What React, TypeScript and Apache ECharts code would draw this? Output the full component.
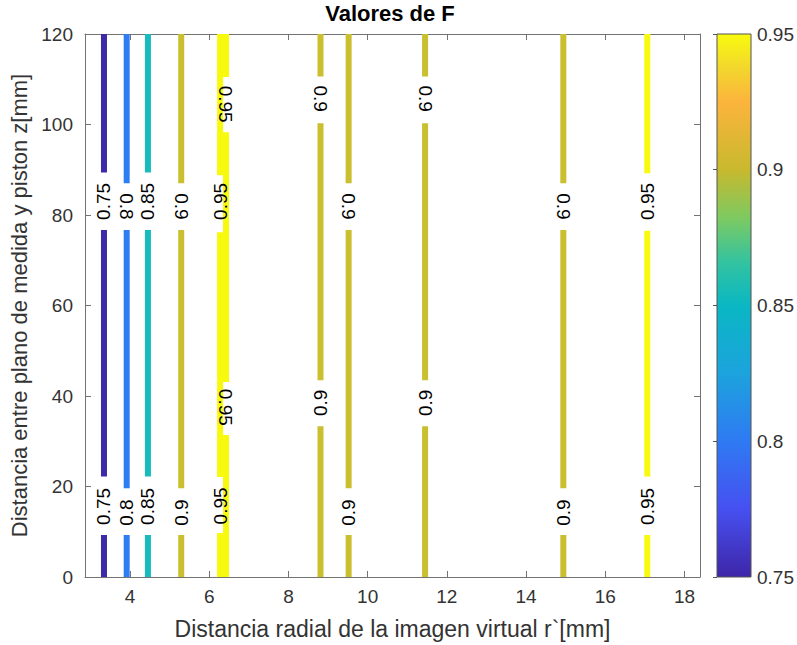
import { useEffect, useRef } from "react";
import * as echarts from "echarts";

// ---- data ----
const xTicks = [4, 6, 8, 10, 12, 14, 16, 18];
const yTicks = [0, 20, 40, 60, 80, 100, 120];
const colorbarTicks = [0.75, 0.8, 0.85, 0.9, 0.95];

// contour lines: position r` (mm) and level F
const contourX = [3.344, 3.917, 4.454, 5.294, 6.275, 6.424, 8.81, 9.52, 11.45, 14.94, 17.06];
const contourLevel = [0.75, 0.8, 0.85, 0.9, 0.95, 0.95, 0.9, 0.9, 0.9, 0.9, 0.95];
// visible pieces of each contour line, [zStart, zEnd] in mm
const contourSegments = [
  [[0, 9.3], [22.2, 76.7], [89.4, 120]],
  [[0, 9.3], [19.6, 76.7], [87.0, 120]],
  [[0, 9.3], [22.2, 76.7], [89.4, 120]],
  [[0, 9.3], [19.6, 76.7], [87.0, 120]],
  [[0, 9.7], [22.1, 76.2], [88.8, 120]],
  [[0, 31.4], [43.1, 98.3], [110.5, 120]],
  [[0, 33.3], [43.5, 100.3], [110.6, 120]],
  [[0, 9.3], [19.6, 76.7], [87.0, 120]],
  [[0, 33.3], [43.5, 100.3], [110.6, 120]],
  [[0, 9.3], [19.6, 76.7], [87.0, 120]],
  [[0, 9.3], [22.2, 76.5], [89.2, 120]],
];

// contour labels
const labelX = [
  3.344, 3.917, 4.454, 5.294, 6.275, 6.424, 8.81, 9.52, 11.45, 14.94, 17.06,
  3.344, 3.917, 4.454, 5.294, 6.275, 6.424, 8.81, 9.52, 11.45, 14.94, 17.06,
];
const labelY = [
  15.6, 14.25, 15.6, 14.25, 15.7, 37.5, 38.5, 14.25, 38.5, 14.25, 15.6,
  83.0, 81.9, 83.0, 81.9, 83.0, 104.5, 105.7, 81.9, 105.7, 81.9, 83.0,
];
const labelText = [
  "0.75", "0.8", "0.85", "0.9", "0.95", "0.95", "0.9", "0.9", "0.9", "0.9", "0.95",
  "0.75", "0.8", "0.85", "0.9", "0.95", "0.95", "0.9", "0.9", "0.9", "0.9", "0.95",
];
const labelFlipped = [
  false, false, false, false, false, true, false, false, false, false, false,
  false, true, false, true, false, true, true, true, true, true, false,
];

// ---- style ----
const FONT = "'Liberation Sans', Arial, Helvetica, sans-serif";
const AXIS_COLOR = "#737373";
const TEXT_COLOR = "#333333";
const levelColors: Record<string, string> = {
  "0.75": "#3d2aa6",
  "0.8": "#2f7df3",
  "0.85": "#19bcbd",
  "0.9": "#c9bf2f",
  "0.95": "#f8fa0e",
};
const parulaStops = [
  { offset: 0, color: "#3e26a8" },
  { offset: 0.125, color: "#4650f0" },
  { offset: 0.25, color: "#2f7af3" },
  { offset: 0.375, color: "#1ca3dd" },
  { offset: 0.5, color: "#0ab7c3" },
  { offset: 0.58, color: "#33c3a0" },
  { offset: 0.66, color: "#7cca62" },
  { offset: 0.75, color: "#c8b92e" },
  { offset: 0.875, color: "#fcb43d" },
  { offset: 0.94, color: "#f2d82c" },
  { offset: 1, color: "#f9fb0e" },
];

const X_MIN = 2.865;
const X_MAX = 18.39;

export default function App() {
  const ref = useRef<HTMLDivElement>(null);

  useEffect(() => {
    if (!ref.current) return;
    const chart = echarts.init(ref.current, null, { renderer: "svg" });

    const lineSeries = contourX.map((x, i) => {
      const data: any[] = [];
      contourSegments[i].forEach((seg, k) => {
        if (k > 0) data.push([x, null]);
        data.push([x, seg[0]]);
        data.push([x, seg[1]]);
      });
      return {
        type: "line",
        xAxisIndex: 0,
        yAxisIndex: 0,
        data,
        symbol: "none",
        showSymbol: false,
        connectNulls: false,
        silent: true,
        z: 2,
        lineStyle: { width: 6, color: levelColors[String(contourLevel[i])], cap: "butt" },
      };
    });

    const labelSeries = {
      type: "custom",
      xAxisIndex: 0,
      yAxisIndex: 0,
      silent: true,
      z: 5,
      data: labelX.map((x, i) => [x, labelY[i]]),
      renderItem: (params: any, api: any) => {
        const i = params.dataIndex;
        const p = api.coord([api.value(0), api.value(1)]);
        return {
          type: "text",
          x: p[0],
          y: p[1],
          rotation: labelFlipped[i] ? -Math.PI / 2 : Math.PI / 2,
          style: {
            text: labelText[i],
            x: 0,
            y: 0,
            align: "center",
            verticalAlign: "middle",
            fontSize: 19,
            fontFamily: FONT,
            fill: "#000000",
          },
        };
      },
    };

    const colorbarSeries = {
      type: "custom",
      xAxisIndex: 2,
      yAxisIndex: 2,
      silent: true,
      data: [[0, colorbarTicks[0], 1, colorbarTicks[colorbarTicks.length - 1]]],
      renderItem: (params: any, api: any) => {
        const p0 = api.coord([api.value(0), api.value(1)]);
        const p1 = api.coord([api.value(2), api.value(3)]);
        return {
          type: "rect",
          shape: { x: p0[0], y: p1[1], width: p1[0] - p0[0], height: p0[1] - p1[1] },
          style: {
            fill: new echarts.graphic.LinearGradient(0, 1, 0, 0, parulaStops),
            stroke: "#555555",
            lineWidth: 1,
          },
        };
      },
    };

    const tickStyle = { inside: true, length: 6, lineStyle: { color: AXIS_COLOR } };
    const lineStyleAxis = { show: true, onZero: false, lineStyle: { color: AXIS_COLOR, width: 1 } };

    chart.setOption({
      animation: false,
      backgroundColor: "#ffffff",
      textStyle: { fontFamily: FONT },
      graphic: [
        {
          type: "text",
          x: 390,
          y: 2,
          style: {
            text: "Valores de F",
            align: "center",
            verticalAlign: "top",
            fontSize: 22,
            fontWeight: "bold",
            fontFamily: FONT,
            fill: "#000000",
          },
        },
      ],
      grid: [
        { left: 85, top: 34, width: 615, height: 543 },
        { left: 717, top: 34, width: 36, height: 543 },
      ],
      xAxis: [
        {
          gridIndex: 0,
          type: "value",
          min: X_MIN,
          max: X_MAX,
          position: "bottom",
          axisLine: lineStyleAxis,
          axisTick: { ...tickStyle, customValues: xTicks },
          axisLabel: { customValues: xTicks, margin: 10, fontSize: 19, color: TEXT_COLOR, fontFamily: FONT },
          splitLine: { show: false },
          name: "Distancia radial de la imagen virtual r`[mm]",
          nameLocation: "middle",
          nameGap: 40,
          nameTextStyle: { fontSize: 23, color: TEXT_COLOR, fontFamily: FONT },
        },
        {
          gridIndex: 0,
          type: "value",
          min: X_MIN,
          max: X_MAX,
          position: "top",
          axisLine: lineStyleAxis,
          axisTick: { ...tickStyle, customValues: xTicks },
          axisLabel: { show: false },
          splitLine: { show: false },
        },
        { gridIndex: 1, type: "value", min: 0, max: 1, show: false },
      ],
      yAxis: [
        {
          gridIndex: 0,
          type: "value",
          min: yTicks[0],
          max: yTicks[yTicks.length - 1],
          position: "left",
          axisLine: lineStyleAxis,
          axisTick: { ...tickStyle, customValues: yTicks },
          axisLabel: { customValues: yTicks, margin: 12, fontSize: 19, color: TEXT_COLOR, fontFamily: FONT },
          splitLine: { show: false },
          name: "Distancia entre plano de medida y piston z[mm]",
          nameLocation: "middle",
          nameRotate: 90,
          nameGap: 52,
          nameTextStyle: { fontSize: 22, color: TEXT_COLOR, fontFamily: FONT },
        },
        {
          gridIndex: 0,
          type: "value",
          min: yTicks[0],
          max: yTicks[yTicks.length - 1],
          position: "right",
          axisLine: lineStyleAxis,
          axisTick: { ...tickStyle, customValues: yTicks },
          axisLabel: { show: false },
          splitLine: { show: false },
        },
        {
          gridIndex: 1,
          type: "value",
          min: colorbarTicks[0],
          max: colorbarTicks[colorbarTicks.length - 1],
          position: "right",
          axisLine: { show: false },
          axisTick: { inside: true, length: 4, customValues: colorbarTicks, lineStyle: { color: "#555555" } },
          axisLabel: { customValues: colorbarTicks, margin: 6, fontSize: 19, color: TEXT_COLOR, fontFamily: FONT },
          splitLine: { show: false },
        },
      ],
      series: [...lineSeries, labelSeries, colorbarSeries],
    });

    return () => chart.dispose();
  }, []);

  return (
    <div
      ref={ref}
      style={{ position: "fixed", left: 0, top: 0, width: 797, height: 645, background: "#fff" }}
    />
  );
}
